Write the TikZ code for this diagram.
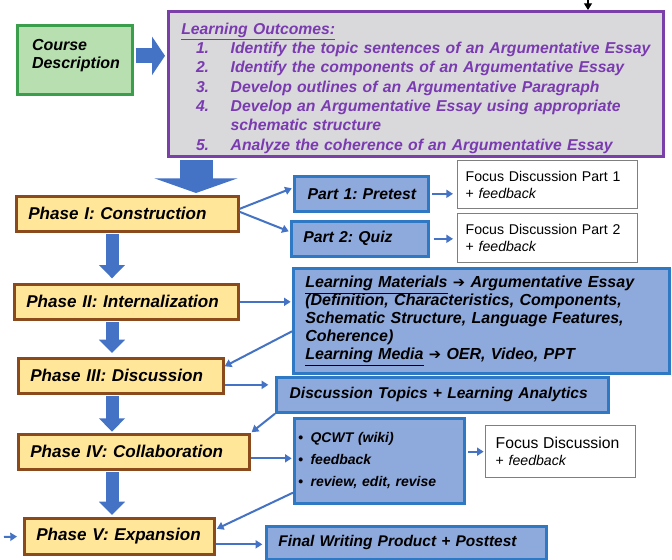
\documentclass[tikz,border=0pt]{standalone}
\usepackage{fontspec}
\setmainfont{Liberation Sans}
\newfontfamily\symfont{DejaVu Sans}
\usepackage{tikz}
\usetikzlibrary{arrows.meta,positioning,calc}

\definecolor{cdfill}{HTML}{B7DFB0}
\definecolor{cdline}{HTML}{3A9E4C}
\definecolor{lofill}{HTML}{D9D9DC}
\definecolor{loline}{HTML}{7A3FA8}
\definecolor{lotext}{HTML}{7A3AB0}
\definecolor{phfill}{HTML}{FFE699}
\definecolor{phline}{HTML}{8A4A1C}
\definecolor{ptfill}{HTML}{8EA9DB}
\definecolor{ptline}{HTML}{2F78C4}
\definecolor{arrowblue}{HTML}{4472C4}
\definecolor{fdline}{HTML}{7F7F7F}

\newcommand{\goesto}{{\symfont\fontsize{11}{12}\selectfont ➔}}

\tikzset{
  box/.style={anchor=north west, align=left, inner ysep=0pt,
    execute at begin node={\frenchspacing\hyphenpenalty=10000\exhyphenpenalty=10000},
    font=\bfseries\itshape\fontsize{12}{13.5}\selectfont},
  cdbox/.style={box, draw=cdline, fill=cdfill, line width=2pt, inner xsep=11pt},
  lobox/.style={box, draw=loline, fill=lofill, line width=2pt, inner xsep=6pt,
    text=lotext, font=\bfseries\itshape\fontsize{11.8}{14.5}\selectfont},
  phase/.style={box, draw=phline, fill=phfill, line width=2pt, inner xsep=9pt,
    minimum height=26.25pt, font=\bfseries\itshape\fontsize{12.8}{14}\selectfont},
  partbox/.style={box, draw=ptline, fill=ptfill, line width=2pt, inner xsep=9pt},
  fdbox/.style={box, draw=fdline, fill=white, line width=1pt, inner xsep=6pt,
    font=\fontsize{10.6}{13}\selectfont},
  thinarrow/.style={draw=arrowblue, line width=1.5pt, -{Triangle[length=5pt,width=6pt]}},
  phasearrow/.style={draw=arrowblue, line width=9.75pt, -{Triangle[length=10pt,width=19pt]}},
  bigarrow/.style={draw=arrowblue, line width=24.75pt, -{Triangle[length=11pt,width=62pt]}},
  sidearrow/.style={draw=arrowblue, line width=11.25pt, -{Triangle[length=9.75pt,width=28.5pt]}}
}

\begin{document}
\begin{tikzpicture}[x=0.75pt,y=0.75pt,yscale=-1,xscale=1]
\useasboundingbox (0,0) rectangle (672,560);
\fill[white] (0,0) rectangle (672,560);

% Course description and outcomes
\node (cd) [cdbox, minimum width=86.25pt, minimum height=51.75pt, text width=64.25pt] at (16,24) {Course\\Description\\[-4pt]\mbox{}};
\node (lo) [lobox, minimum width=371.25pt, minimum height=108.75pt, text width=359.25pt] at (167,10) {%
\rule{0pt}{15pt}\hspace*{3.75pt}\underline{Learning Outcomes:}\\
\hspace*{14.75pt}\makebox[26pt][l]{1.}Identify the topic sentences of an Argumentative Essay\\
\hspace*{14.75pt}\makebox[26pt][l]{2.}Identify the components of an Argumentative Essay\\
\hspace*{14.75pt}\makebox[26pt][l]{3.}Develop outlines of an Argumentative Paragraph\\
\hspace*{14.75pt}\makebox[26pt][l]{4.}Develop an Argumentative Essay using appropriate\\
\hspace*{40.75pt}schematic structure\\
\hspace*{14.75pt}\makebox[26pt][l]{5.}Analyze the coherence of an Argumentative Essay};

% Phases
\node (ph1) [phase, minimum width=166.5pt, text width=148.5pt] at (15,195) {Phase I: Construction};
\node (ph2) [phase, minimum width=168pt, text width=150pt] at (13,283) {Phase II: Internalization};
\node (ph3) [phase, minimum width=153.75pt, text width=135.75pt] at (17,357) {Phase III: Discussion};
\node (ph4) [phase, minimum width=173.25pt, text width=155.25pt] at (17,433) {Phase IV: Collaboration};
\node (ph5) [phase, minimum width=142.5pt, minimum height=27pt, text width=124.5pt] at (23,517) {Phase V: Expansion};

% Activities
\node (pt1) [partbox, inner xsep=8pt, minimum width=100.5pt, minimum height=26.25pt, text width=84.5pt,
  font=\bfseries\itshape\fontsize{11.8}{13}\selectfont] at (293,175) {\hspace*{2pt}Part 1: Pretest};
\node (pt2) [partbox, inner xsep=8pt, minimum width=102.75pt, minimum height=26.25pt, text width=86.75pt,
  font=\bfseries\itshape\fontsize{11.8}{13}\selectfont] at (290,220) {\hspace*{1pt}Part 2: Quiz};
\node (fd1) [fdbox, minimum width=135pt, minimum height=36pt, text width=123pt] at (457,160) {Focus Discussion Part 1\\+ \textit{feedback}};
\node (fd2) [fdbox, minimum width=135pt, minimum height=36.75pt, text width=123pt] at (457,213) {Focus Discussion Part 2\\+ \textit{feedback}};
\node (lm) [partbox, minimum width=282pt, minimum height=78.75pt, text width=264pt] at (292,267) {%
\underline{Learning Materials} \goesto{} Argumentative Essay\\
(Definition, Characteristics, Components,\\
Schematic Structure, Language Features,\\
Coherence)\\
\underline{Learning Media} \goesto{} OER, Video, PPT};
\node (dt) [partbox, minimum width=249pt, minimum height=26.25pt, text width=231pt,
  font=\bfseries\itshape\fontsize{11.7}{13}\selectfont] at (275,376) {\hspace*{1pt}Discussion Topics + Learning Analytics};
\node (bl) [partbox, inner xsep=3pt, minimum width=127.5pt, minimum height=63.75pt, text width=121.5pt,
  font=\bfseries\itshape\fontsize{10.5}{16.5}\selectfont] at (293,417) {%
{\upshape\textbullet}\hspace{2pt} QCWT (wiki)\\
{\upshape\textbullet}\hspace{2pt} feedback\\
{\upshape\textbullet}\hspace{2pt} review, edit, revise};
\node (fd3) [fdbox, inner xsep=7.5pt, minimum width=112.5pt, minimum height=39pt, text width=97.5pt] at (485,425) {{\fontsize{11.8}{14}\selectfont Focus Discussion}\\+ \textit{feedback}};
\node (fw) [partbox, minimum width=210pt, minimum height=24.75pt, text width=192pt,
  font=\bfseries\itshape\fontsize{11.6}{13}\selectfont] at (265,525) {Final Writing Product + Posttest};

% Block arrows
\coordinate (bigx) at (196,0);
\coordinate (col) at (112,0);
\draw[sidearrow, shorten <=1.5pt, shorten >=1.5pt] ($(cd.east)+(0,-4)$) coordinate (c0) -- (c0 -| lo.west);
\draw[bigarrow, shorten <=2pt, shorten >=1.5pt] (lo.south -| bigx) -- (ph1.north -| bigx);
\draw[phasearrow, shorten <=1pt, shorten >=3.5pt] (ph1.south -| col) -- (ph2.north -| col);
\draw[phasearrow, shorten <=1pt, shorten >=3pt] (ph2.south -| col) -- (ph3.north -| col);
\draw[phasearrow, shorten <=1pt, shorten >=1pt] (ph3.south -| col) -- (ph4.north -| col);
\draw[phasearrow, shorten <=1pt, shorten >=1.5pt] (ph4.south -| col) -- (ph5.north -| col);

% Thin connectors
\draw[thinarrow, shorten >=1pt] ($(ph1.east)+(0,-5)$) -- ($(pt1.west)+(0,-6)$);
\draw[thinarrow, shorten >=1pt] ($(ph1.east)+(0,-2)$) -- ($(pt2.west)+(0,-7)$);
\draw[thinarrow, shorten <=2pt, shorten >=3pt] (pt1.east) -- (pt1.east -| fd1.west);
\draw[thinarrow, shorten <=3pt, shorten >=3pt] (pt2.east) -- (pt2.east -| fd2.west);
\draw[thinarrow, shorten >=1pt] (ph2.east) -- (ph2.east -| lm.west);
\draw[thinarrow] ($(lm.west)+(0,10.5)$) -- ($(ph3.east)+(0,-9.5)$);
\draw[thinarrow, shorten >=5pt] ($(ph3.east)+(0,9)$) coordinate (c3) -- (c3 -| dt.west);
\draw[thinarrow, shorten >=1pt] (dt.south west) -- (ph4.north east);
\draw[thinarrow, shorten >=1pt] ($(ph4.east)+(0,6.5)$) coordinate (c4) -- (c4 -| bl.west);
\draw[thinarrow, shorten <=2pt, shorten >=1pt] (bl.east |- fd3.west) -- (fd3.west);
\draw[thinarrow, shorten >=1pt] ($(bl.south west)+(0,-12)$) -- ($(ph5.east)+(0,-7)$);
\draw[thinarrow, shorten >=2pt] ($(ph5.east)+(0,8)$) coordinate (c5) -- (c5 -| fw.west);

% Edge markers
\coordinate (edge) at (4,537);
\draw[thinarrow, shorten >=4.5pt] (edge) -- (ph5.west);
\coordinate (topin) at (588,0);
\draw[line width=0.8pt, -{Triangle[length=5pt,width=6pt]}] (topin) -- (topin |- lo.north);
\end{tikzpicture}
\end{document}
